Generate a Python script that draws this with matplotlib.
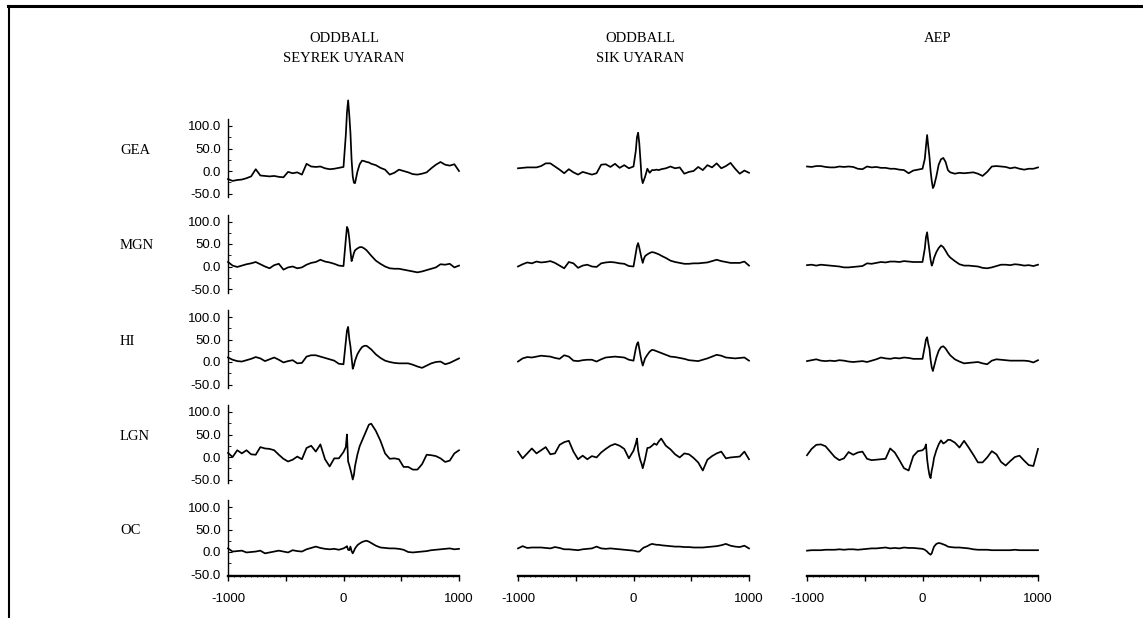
import numpy as np
import matplotlib
matplotlib.use("Agg")
import matplotlib.pyplot as plt
from matplotlib.lines import Line2D
from matplotlib.ticker import FuncFormatter

plt.rcParams['axes.unicode_minus'] = False

# time axis (ms), denser around stimulus onset
t_ms = [-1000, -960, -920, -880, -840, -800, -760, -720, -680, -640,
        -600, -560, -520, -480, -440, -400, -360, -320, -280, -240,
        -200, -160, -120, -80, -40,
        0, 20, 30, 40, 50, 60, 70, 80, 90, 100, 120, 140, 160, 180, 200, 220, 240,
        280, 320, 360, 400, 440, 480, 520, 560, 600, 640, 680, 720, 760, 800, 840, 880, 920, 960, 1000]

# amplitudes (uV)
gea_seyrek = [-18, -22, -20, -19, -16, -12, 4, -10, -11, -12, -11, -13, -14, -2, -5, -3, -8, 16, 10, 9, 10, 6, 4, 5, 7,
              9, 80, 130, 157, 125, 85, 25, -12, -26, -27, -2, 15, 23, 22, 20, 19, 16,
              13, 7, 3, -8, -4, 3, 0, -3, -7, -8, -6, -3, 6, 14, 20, 14, 12, 15, 0]
gea_sik = [6, 7, 8, 8, 8, 11, 17, 17, 10, 3, -5, 4, -3, -8, -2, -5, -8, -5, 14, 15, 9, 16, 7, 13, 6,
           10, 45, 75, 85, 62, 25, -15, -27, -20, -13, 5, -4, 2, 2, 3, 2, 4,
           6, 10, 6, 8, -6, -2, 0, 9, 2, 13, 8, 17, 6, 11, 18, 5, -6, 1, -4]
gea_aep = [10, 9, 11, 11, 9, 8, 8, 10, 9, 10, 9, 5, 4, 10, 8, 9, 7, 7, 5, 5, 3, 2, -5, 1, 3,
           5, 27, 55, 80, 55, 32, 0, -22, -38, -33, -12, 14, 26, 29, 20, 2, -3,
           -6, -4, -5, -4, -3, -6, -11, -2, 10, 11, 10, 9, 6, 8, 5, 3, 5, 5, 8]

mgn_seyrek = [10, 2, -1, 2, 5, 7, 10, 5, 0, -4, 3, 6, -7, -2, 0, -4, -2, 4, 8, 10, 15, 11, 9, 6, 2,
              1, 60, 88, 82, 62, 35, 12, 20, 30, 36, 40, 43, 43, 40, 36, 30, 24,
              13, 6, 0, -4, -5, -5, -7, -9, -11, -13, -11, -8, -5, -2, 5, 4, 6, -2, 2]
mgn_sik = [0, 5, 9, 7, 11, 9, 10, 12, 8, 2, -4, 10, 7, -3, 2, 4, 0, -1, 7, 9, 10, 9, 7, 6, 1,
           0, 30, 45, 52, 42, 30, 18, 8, 17, 23, 27, 30, 32, 31, 29, 27, 24,
           19, 13, 10, 8, 6, 6, 7, 7, 8, 9, 12, 15, 12, 10, 8, 8, 8, 11, 2]
mgn_aep = [3, 4, 2, 4, 3, 2, 1, 0, -2, -2, -1, 0, 1, 7, 6, 8, 10, 9, 11, 11, 10, 12, 11, 10, 10,
           10, 40, 65, 76, 55, 35, 15, 2, 8, 19, 32, 41, 47, 43, 35, 26, 20,
           12, 5, 2, 2, 1, 0, -3, -4, -2, 1, 4, 4, 3, 5, 4, 2, 3, 1, 4]

hi_seyrek = [10, 5, 2, 1, 4, 7, 11, 8, 2, 6, 10, 5, -1, 2, 4, -3, -2, 12, 15, 15, 12, 9, 6, 3, -4,
             -5, 45, 70, 78, 52, 35, 10, -15, -8, 3, 17, 26, 33, 36, 36, 32, 28,
             17, 9, 3, 0, -2, -3, -3, -3, -6, -10, -13, -8, -3, 0, 1, -5, -2, 3, 8]
hi_sik = [1, 8, 11, 10, 12, 14, 13, 12, 9, 7, 15, 12, 3, 2, 4, 5, 5, 1, 6, 10, 11, 12, 11, 10, 5,
          3, 30, 40, 44, 30, 15, 2, -8, 0, 8, 16, 23, 27, 26, 24, 22, 20,
          16, 12, 11, 9, 7, 4, 3, 2, 5, 8, 12, 16, 14, 10, 9, 8, 9, 10, 3]
hi_aep = [2, 4, 6, 3, 2, 3, 2, 4, 3, 1, 0, 1, 2, 0, 3, 6, 10, 8, 7, 9, 8, 10, 9, 7, 7,
          7, 35, 50, 55, 40, 30, 5, -12, -20, -10, 10, 25, 33, 35, 30, 22, 15,
          6, 1, -3, -2, -1, 0, -3, -5, 3, 6, 5, 4, 3, 3, 3, 3, 2, -1, 4]

lgn_seyrek = [9, 0, 15, 8, 15, 6, 5, 22, 19, 18, 15, 5, -4, -10, -6, 1, -5, 20, 25, 12, 28, -5, -21, -3, -3,
              11, 22, 50, -10, -18, -28, -38, -50, -40, -20, 5, 24, 36, 48, 60, 72, 74,
              58, 36, 8, -4, -3, -5, -22, -22, -28, -28, -16, 5, 4, 2, -3, -11, -8, 8, 15]
lgn_sik = [12, -3, 8, 19, 8, 15, 22, 6, 8, 27, 33, 36, 12, -5, 3, -5, 2, -1, 10, 18, 25, 29, 25, 18, -3,
           14, 30, 41, 15, 2, -8, -15, -25, -15, -5, 20, 21, 25, 30, 27, 35, 41,
           25, 17, 6, -1, 8, 6, -2, -12, -30, -6, 2, 8, 12, -3, -1, 0, 1, 12, -5]
lgn_aep = [4, 18, 27, 28, 24, 12, 0, -7, -3, 11, 5, 10, 12, -4, -7, -6, -5, -4, 19, 10, -7, -25, -30, 2, 13,
           15, 20, 28, -5, -25, -40, -47, -30, -18, -2, 15, 28, 37, 30, 33, 38, 38,
           32, 21, 36, 21, 5, -12, -12, -1, 13, 6, -11, -19, -9, 0, 3, -8, -18, -20, 18]

oc_seyrek = [8, 1, 2, 3, -1, 0, 1, 3, -3, -1, 1, 3, 1, -1, 4, 2, 1, 6, 9, 12, 9, 7, 6, 7, 5,
             8, 11, 13, 5, 4, 12, 2, -3, 2, 8, 15, 19, 22, 24, 25, 23, 20,
             14, 10, 9, 8, 8, 7, 5, 0, -1, 0, 1, 2, 4, 5, 6, 7, 8, 6, 7]
oc_sik = [8, 13, 9, 10, 10, 10, 9, 8, 11, 9, 6, 6, 5, 4, 6, 7, 8, 12, 8, 7, 8, 7, 6, 5, 4,
          3, 2, 1, 1, 1, 3, 6, 8, 10, 11, 13, 16, 18, 17, 16, 16, 15,
          14, 13, 12, 12, 11, 11, 10, 10, 10, 11, 12, 13, 15, 18, 14, 12, 11, 14, 8]
oc_aep = [3, 4, 4, 4, 5, 5, 5, 6, 5, 6, 6, 5, 6, 7, 8, 8, 9, 10, 8, 9, 8, 10, 9, 9, 8,
          7, 5, 3, 1, -2, -4, -6, -3, 5, 12, 18, 20, 19, 17, 15, 12, 11,
          10, 10, 9, 8, 6, 5, 5, 5, 4, 4, 4, 4, 4, 5, 4, 4, 4, 4, 4]

col_titles = [['ODDBALL', 'SEYREK UYARAN'], ['ODDBALL', 'SIK UYARAN'], ['AEP']]
regions = ['GEA', 'MGN', 'HI', 'LGN', 'OC']
traces = [[gea_seyrek, gea_sik, gea_aep],
          [mgn_seyrek, mgn_sik, mgn_aep],
          [hi_seyrek, hi_sik, hi_aep],
          [lgn_seyrek, lgn_sik, lgn_aep],
          [oc_seyrek, oc_sik, oc_aep]]
y_ticks = [-50, 0, 50, 100]
x_ticks = [-1000, -500, 0, 500, 1000]
x_labels = ['-1000', '', '0', '', '1000']

# layout in pixels of the 1143x618 picture
W, H = 1143, 618
col_left = [228, 518, 807]
col_w = 231
row_zero = [171, 266.5, 362, 457, 552]
px_per_uv = 0.45
ylo, yhi = -65, 145
title_x = [344, 640, 938]

serif = 'Liberation Serif'
sans = 'Liberation Sans'

fig = plt.figure(figsize=(W / 100, H / 100), dpi=100)

for r, region in enumerate(regions):
    for c in range(3):
        bottom_px = row_zero[r] - ylo * px_per_uv
        ax = fig.add_axes([col_left[c] / W, 1 - bottom_px / H, col_w / W,
                           (yhi - ylo) * px_per_uv / H])
        ax.patch.set_visible(False)
        ax.set_xlim(-1000, 1000)
        ax.set_ylim(ylo, yhi)
        ax.plot(t_ms, traces[r][c], color='black', lw=1.25, clip_on=False)
        for s in ax.spines.values():
            s.set_visible(False)

        if c == 0:
            ax.spines['left'].set_visible(True)
            ax.spines['left'].set_linewidth(1.0)
            ax.spines['left'].set_bounds(-53 if r == 4 else -58, 115)
            ax.set_yticks(y_ticks)
            ax.set_yticks([-25, 25, 75], minor=True)
            ax.yaxis.set_major_formatter(FuncFormatter(lambda v, p: f'{v:.1f}'))
            ax.tick_params(axis='y', which='major', direction='in', length=3,
                           width=0.8, pad=5, labelsize=9.5)
            ax.tick_params(axis='y', which='minor', direction='in', length=2, width=0.6)
            for lab in ax.get_yticklabels():
                lab.set_family(sans)
        else:
            ax.set_yticks([])

        if r == 4:
            ax.spines['bottom'].set_visible(True)
            ax.spines['bottom'].set_position(('data', -53))
            ax.spines['bottom'].set_linewidth(1.7)
            ax.set_xticks(x_ticks)
            ax.set_xticklabels(x_labels, family=sans, fontsize=9.5)
            ax.set_xticks(np.arange(-1000, 1001, 50), minor=True)
            ax.tick_params(axis='x', which='major', direction='out', length=3.5,
                           width=1.0, pad=9)
            ax.tick_params(axis='x', which='minor', direction='inout', length=2, width=0.6)
        else:
            ax.set_xticks([])

    fig.text(120 / W, 1 - (row_zero[r] - 21) / H, region, family=serif,
             fontsize=10.5, ha='left', va='center')

for c, lines in enumerate(col_titles):
    for i, line in enumerate(lines):
        fig.text(title_x[c] / W, 1 - (39 + i * 19) / H, line, family=serif,
                 fontsize=10.5, ha='center', va='center')

# frame lines of the scan
fig.add_artist(Line2D([8 / W, 1], [1 - 6 / H, 1 - 6 / H], color='black', lw=2.2,
                      transform=fig.transFigure))
fig.add_artist(Line2D([9 / W, 9 / W], [0, 1 - 6 / H], color='black', lw=1.5,
                      transform=fig.transFigure))

fig.savefig('out.png', dpi=100, facecolor='white')
